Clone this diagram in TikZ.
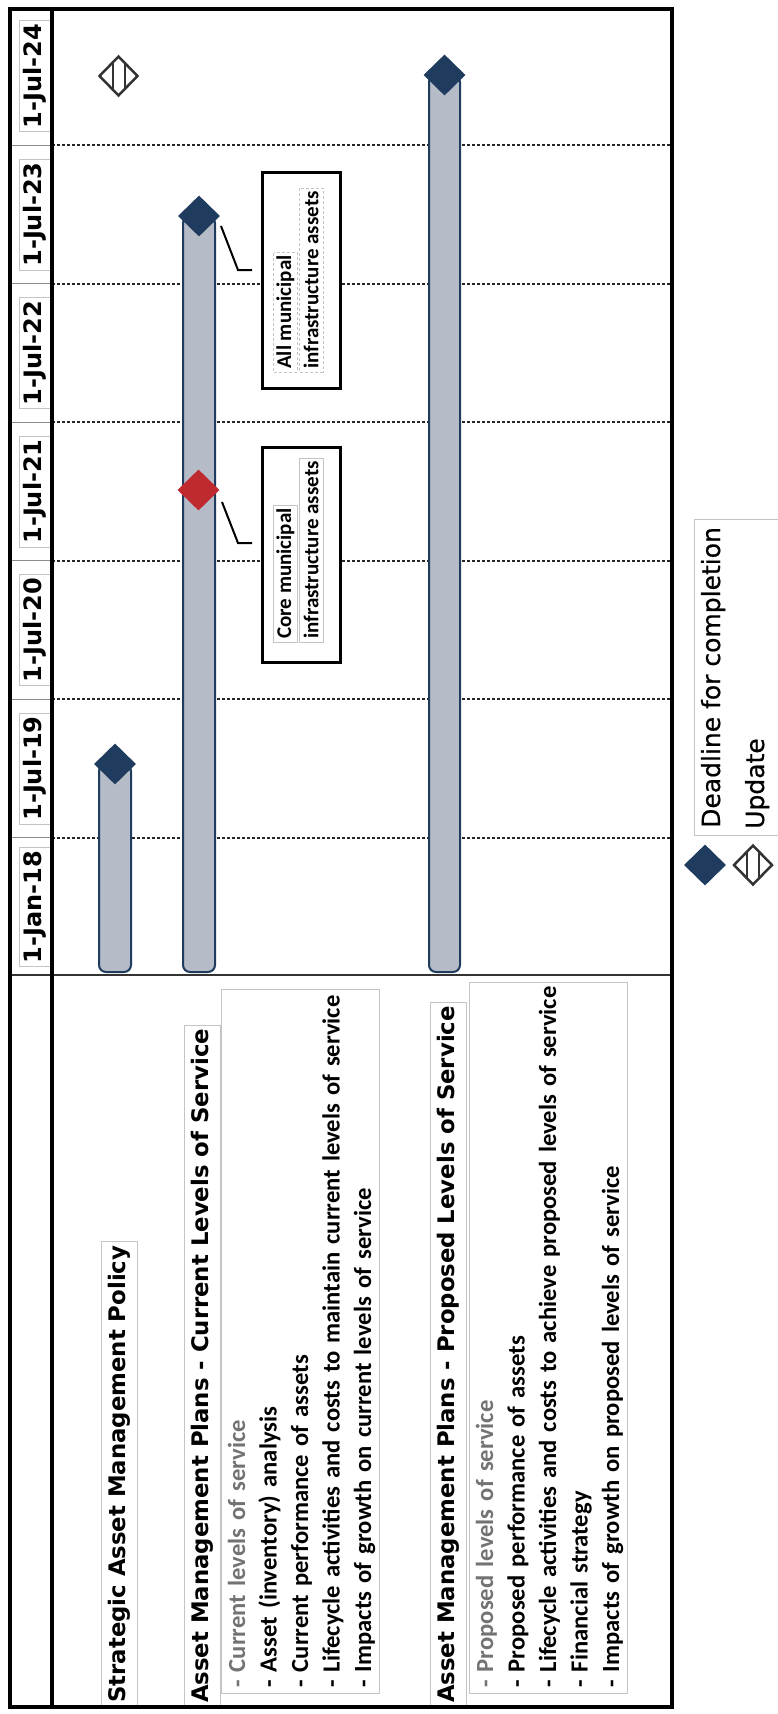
\documentclass[tikz,border=0pt]{standalone}
\usepackage{fontspec}
\setmainfont{DejaVu Sans}
\newfontfamily\calibfont{Carlito}
\newfontfamily\legendfont[FakeBold=0.6]{DejaVu Sans}
\usetikzlibrary{shapes.geometric}

\definecolor{navy}{HTML}{1F3B5E}
\definecolor{barfill}{HTML}{B5BBC7}
\definecolor{deadred}{HTML}{BF2A2E}
\definecolor{boxgray}{HTML}{C4C4C4}

\newcommand{\lstrut}{\rule[-7.5pt]{0pt}{31.5pt}}
\newcommand{\wide}{\spaceskip=8pt plus 1pt\relax}

\tikzset{
  bar/.style={draw=navy, fill=barfill, line width=2pt, rounded corners=7pt},
  deadline/.style={diamond, fill=navy, inner sep=0pt, minimum width=42pt, minimum height=41pt},
  coredeadline/.style={deadline, fill=deadred},
  update/.style={diamond, draw=black!80, fill=white, line width=2.5pt, inner sep=0pt,
    minimum width=39pt, minimum height=40pt,
    path picture={
      \draw[line width=2pt, black!80] ([xshift=-6pt]path picture bounding box.north) -- ([xshift=-6pt]path picture bounding box.south);
      \draw[line width=2pt, black!80] ([xshift=6pt]path picture bounding box.north) -- ([xshift=6pt]path picture bounding box.south);
    }},
  gridline/.style={densely dashed, line width=2pt, black!85},
  datebox/.style={draw=boxgray, rotate=90, inner xsep=3.5pt, inner ysep=1pt, minimum height=31pt,
    font=\bfseries\fontsize{24}{24}\selectfont},
  taskhead/.style={draw=boxgray, rotate=90, anchor=west, inner xsep=4pt, inner ysep=2pt, minimum height=36pt,
    font=\bfseries\fontsize{22.8}{24}\selectfont},
  tasklist/.style={draw=boxgray, rotate=90, anchor=north west, inner xsep=5pt, inner ysep=0pt, align=left,
    font=\calibfont\bfseries\fontsize{24.6}{31.5}\selectfont},
  callout/.style={draw, line width=3pt, fill=white, minimum width=78pt, inner sep=0pt},
  calltext/.style={rotate=90, anchor=west, inner xsep=3pt, inner ysep=1pt, minimum height=24pt,
    font=\calibfont\bfseries\fontsize{21}{21}\selectfont},
  leader/.style={line width=2pt},
  legendtext/.style={rotate=90, anchor=base west, inner sep=0pt, font=\legendfont\fontsize{25}{25}\selectfont}
}

\begin{document}
\begin{tikzpicture}[x=1pt, y=-1pt]
  \useasboundingbox (0,0) rectangle (777,1714);

  % time grid
  \foreach \i in {1,...,6} {
    \draw[gridline] (52,{145.25+138.5*(\i-1)}) -- (672,{145.25+138.5*(\i-1)});
    \draw[line width=1pt, black!45] (10,{145.25+138.5*(\i-1)}) -- (52,{145.25+138.5*(\i-1)});
  }
  \foreach \d [count=\i] in {1-Jul-24,1-Jul-23,1-Jul-22,1-Jul-21,1-Jul-20,1-Jul-19,1-Jan-18}
    \node[datebox] (date\i) at (34.5,{76+138.5*(\i-1)}) {\d};

  % bars
  \draw[bar] (99,764) rectangle (131,972);
  \draw[bar] (183,216) rectangle (215,972);
  \draw[bar] (429,75) rectangle (460,972);

  % milestones
  \node[deadline] (dPolicy) at (115,764) {};
  \node[deadline] (dCurrent) at (199,216) {};
  \node[coredeadline] (dCore) at (198.5,490) {};
  \node[deadline] (dProposed) at (444.5,75) {};
  \node[update] (dUpdate) at (118.5,76) {};

  % callouts
  \node[callout, minimum height=216pt] (allBox) at (301,280) {};
  \node[calltext, draw=boxgray, densely dashed] (allL1) at (285.5,372) {All municipal};
  \node[calltext, draw=boxgray, densely dashed] (allL2) at (311,372) {infrastructure assets};
  \node[callout, minimum height=215pt] (coreBox) at (301,554.5) {};
  \node[calltext, draw=boxgray] (coreL1) at (285.5,642) {Core municipal};
  \node[calltext, draw=boxgray] (coreL2) at (311,642) {infrastructure assets};

  \coordinate (allTip) at (221,226);
  \coordinate (allKnee) at (238,270);
  \coordinate (allFoot) at (252,270);
  \draw[leader] (allTip) -- (allKnee) -- (allFoot);
  \coordinate (coreTip) at (222,502);
  \coordinate (coreKnee) at (238,543);
  \coordinate (coreFoot) at (252,543);
  \draw[leader] (coreTip) -- (coreKnee) -- (coreFoot);

  % tasks
  \node[taskhead] (policyHead) at (119.5,1707) {Strategic Asset Management Policy};
  \node[taskhead] (currentHead) at (202,1707) {Asset Management Plans - Current Levels of Service};
  \node[taskhead] (proposedHead) at (448.5,1707) {Asset Management Plans - Proposed Levels of Service};

  \node[tasklist, text width=694pt] (currentList) at (221,1693) {%
    \mbox{\lstrut\color{black!55}- Current levels of service}\\
    \mbox{\lstrut- Asset (inventory) analysis}\\
    \mbox{\lstrut- Current performance of assets}\\
    \mbox{\lstrut\wide- Lifecycle activities and costs to maintain current levels of service}\\
    \mbox{\lstrut- Impacts of growth on current levels of service}};
  \node[tasklist, text width=701pt] (proposedList) at (469,1693) {%
    \mbox{\lstrut\color{black!55}- Proposed levels of service}\\
    \mbox{\lstrut- Proposed performance of assets}\\
    \mbox{\lstrut\wide- Lifecycle activities and costs to achieve proposed levels of service}\\
    \mbox{\lstrut- Financial strategy}\\
    \mbox{\lstrut- Impacts of growth on proposed levels of service}};

  % frame
  \draw[line width=2pt, black!80] (10,975) -- (672,975);
  \draw[line width=3.5pt] (52,9) -- (52,1707);
  \draw[line width=4.5pt] (10,9) rectangle (672,1707);

  % legend
  \node[draw=boxgray, minimum width=91pt, minimum height=316pt] (legendBox) at (739.5,677) {};
  \node[legendtext] (legDead) at (720,828) {Deadline for completion};
  \node[legendtext] (legUpd) at (764,829) {Update};
  \node[deadline] (legDeadMark) at (705,865) {};
  \node[update] (legUpdMark) at (753,865) {};
\end{tikzpicture}
\end{document}
